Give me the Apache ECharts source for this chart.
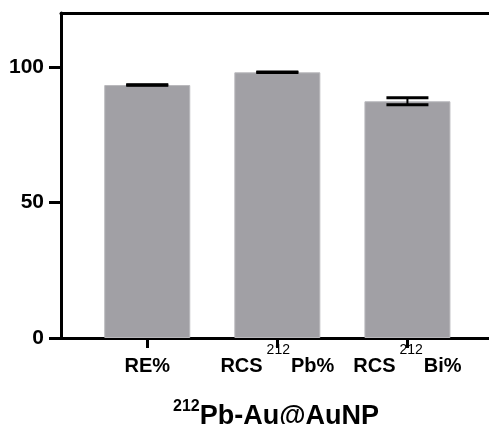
<!DOCTYPE html>
<html>
<head>
<meta charset="utf-8">
<script src="https://cdn.jsdelivr.net/npm/echarts@6/dist/echarts.min.js"></script>
<style>
html,body{margin:0;padding:0;background:#fff;}
#chart{width:489px;height:424px;}
</style>
</head>
<body>
<div id="chart"></div>
<script>
// ---- data ----
var categories = ['RE%', 'RCS 212Pb%', 'RCS 212Bi%'];
var labelParts = [['RE%', '', ''], ['RCS', '212', 'Pb%'], ['RCS', '212', 'Bi%']];
var positions = [1, 2, 3];
var means = [93.4, 98.1, 87.4];
var errors = [0.1, 0.1, 1.3];
var yTicks = [0, 50, 100];
var titleSup = '212';
var titleMain = 'Pb-Au@AuNP';

var FONT = '"Liberation Sans", Arial, sans-serif';
var chart = echarts.init(document.getElementById('chart'), null, {renderer: 'canvas'});

var barData = positions.map(function (p, i) { return [p, means[i]]; });
var errData = positions.map(function (p, i) { return [p, means[i], errors[i]]; });

function xLabel(v) {
  var idx = -1;
  for (var i = 0; i < positions.length; i++) { if (Math.abs(positions[i] - v) < 1e-6) idx = i; }
  if (idx < 0) return '';
  var parts = labelParts[idx];
  var s = '{b|' + parts[0] + '}';
  if (parts[1]) s += '{s|' + parts[1] + '}{b|' + parts[2] + '}';
  return s;
}

var XMIN = 0.337, XMAX = 3.627;

var option = {
  animation: false,
  backgroundColor: '#fff',
  title: {
    text: '{s|' + titleSup + '}{m|' + titleMain + '}',
    left: 173,
    top: 399,
    padding: 0,
    textStyle: {
      rich: {
        s: {fontSize: 16, fontWeight: 'bold', fontFamily: FONT, color: '#000', verticalAlign: 'top', lineHeight: 16},
        m: {fontSize: 27, fontWeight: 'bold', fontFamily: FONT, color: '#000', lineHeight: 30, padding: [5, 0, 0, 0]}
      }
    }
  },
  grid: {left: 61, right: 0, top: 13, bottom: 86, containLabel: false},
  xAxis: [{
    type: 'value',
    min: XMIN,
    max: XMAX,
    position: 'bottom',
    splitLine: {show: false},
    axisLine: {show: true, onZero: false, lineStyle: {color: '#000', width: 3}},
    axisTick: {show: true, customValues: positions, length: 10, lineStyle: {color: '#000', width: 3}},
    axisLabel: {
      show: true,
      customValues: positions,
      margin: 5,
      formatter: function (v) { return xLabel(v); },
      rich: {
        b: {fontSize: 20, fontWeight: 'bold', fontFamily: FONT, color: '#000', lineHeight: 46},
        s: {fontSize: 14, fontWeight: 'normal', fontFamily: FONT, color: '#000', lineHeight: 14, verticalAlign: 'top', padding: [0, 1, 0, 4]}
      }
    }
  }, {
    type: 'value',
    min: XMIN,
    max: XMAX,
    position: 'top',
    splitLine: {show: false},
    axisLine: {show: true, onZero: false, lineStyle: {color: '#000', width: 3}},
    axisTick: {show: false},
    axisLabel: {show: false}
  }],
  yAxis: {
    type: 'value',
    min: 0,
    max: 120,
    splitLine: {show: false},
    axisLine: {show: true, lineStyle: {color: '#000', width: 3}},
    axisTick: {show: true, customValues: yTicks, length: 12, lineStyle: {color: '#000', width: 3}},
    axisLabel: {
      show: true,
      customValues: yTicks,
      margin: 17,
      fontSize: 21,
      fontWeight: 'bold',
      fontFamily: FONT,
      color: '#000'
    }
  },
  series: [{
    type: 'bar',
    xAxisIndex: 0,
    data: barData,
    barWidth: 86,
    itemStyle: {color: '#a1a0a5', borderColor: '#b9b8bc', borderWidth: 1},
    z: 2
  }, {
    type: 'custom',
    xAxisIndex: 0,
    data: errData,
    z: 5,
    renderItem: function (params, api) {
      var x = api.value(0), m = api.value(1), e = api.value(2);
      var top = api.coord([x, m + e]);
      var bot = api.coord([x, m - e]);
      var hw = 21;
      var st = {stroke: '#000', lineWidth: 3};
      return {
        type: 'group',
        children: [
          {type: 'line', shape: {x1: top[0], y1: top[1], x2: bot[0], y2: bot[1]}, style: {stroke: '#000', lineWidth: 2}},
          {type: 'line', shape: {x1: top[0] - hw, y1: top[1], x2: top[0] + hw, y2: top[1]}, style: st},
          {type: 'line', shape: {x1: bot[0] - hw, y1: bot[1], x2: bot[0] + hw, y2: bot[1]}, style: st}
        ]
      };
    }
  }]
};
chart.setOption(option);
</script>
</body>
</html>
